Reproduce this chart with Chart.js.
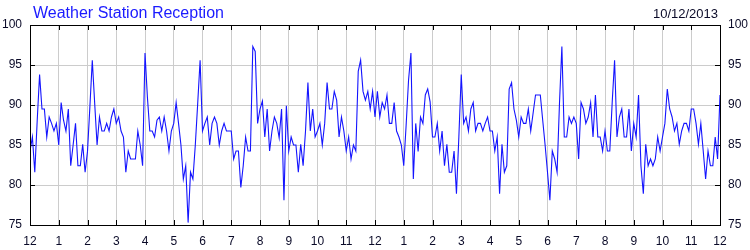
<!DOCTYPE html>
<html><head><meta charset="utf-8">
<script src="https://cdn.jsdelivr.net/npm/chart.js@4/dist/chart.umd.min.js"></script>
<style>html,body{margin:0;padding:0;background:#fff}#wrap{width:750px;height:250px}</style>
</head><body><div id="wrap"><canvas id="c" width="750" height="250"></canvas></div>
<script>
const chartTitle = 'Weather Station Reception';
const chartDate = '10/12/2013';
const hourLabels = ['12','1','2','3','4','5','6','7','8','9','10','11','12','1','2','3','4','5','6','7','8','9','10','11','12'];
const readingsPerHour = 12;
const reception = [
 84.25,86,81.6,88,93.8,89.5,89.5,86,88.5,87.7,86.75,87.7,
 85,90.3,88.1,86.75,89.5,82.4,85,87.7,82.4,82.4,85.1,81.6,
 84.2,89.8,95.6,90.2,85,88.5,86.75,86.75,87.7,86.75,88.5,89.5,
 87.7,88.5,86.75,86,81.6,84.25,83.25,83.25,83.25,86.75,85,82.4,
 96.5,91,86.75,86.75,86,88.1,88.5,86.75,88.5,86.75,84.25,86.75,
 87.7,90.3,87.7,85,80.75,82.4,75.3,81.6,80.75,85,90.2,95.6,
 86.75,87.7,88.5,85,87.7,88.5,87.7,85,86.75,87.7,86.75,86.75,
 86.75,83.25,84.25,84.25,79.7,82.4,86,84.25,84.25,97.3,96.7,87.7,
 89.5,90.5,86,89.5,84.25,86.75,88.5,87.7,85.9,89.5,78.1,89.9,
 84.25,86,85,85,81.6,85.1,82.4,86.75,92.8,86.75,89.5,86,
 86.75,87.7,85,87.7,92.8,89.5,89.5,91.7,90.6,86,88.5,86.75,
 84.25,86,83.25,85,84.25,94.2,95.6,91.7,90.6,91.7,89.5,91.7,
 88.5,91.7,88.5,90.3,89.5,91.25,87.7,87.7,90.3,86.75,86,85,
 82.4,87.5,93.1,96.5,80.75,87.7,84.2,88.5,87.7,91.25,92,90.4,
 86,86,87.7,84.25,86.75,82.4,85.1,81.6,81.6,84.25,78.9,86,
 93.8,87.7,88.5,86.75,89.5,90.3,86.75,87.7,87.7,86.75,87.7,88.5,
 86.75,86.75,84.25,86,78.9,85.1,81.6,82.4,92,92.8,89.5,88.1,
 86,88.5,87.7,87.7,89.5,86.75,89,91.25,91.25,91.25,88.1,85,
 81.6,78.1,84.25,83.25,81.6,90.2,97.3,86,86,88.5,87.7,88.5,
 87.7,83.25,90.3,89.5,87.7,88.5,90.3,86,91.25,86,86,84.25,
 86.75,84.25,84.25,90.3,95.6,86,88.5,89.5,86,86,89.5,84.25,
 87.7,86,91.25,82.4,78.9,85.1,82.4,83.25,82.4,83.25,86,84.25,
 86,87.7,92,89.5,88.5,86.75,87.7,85.1,86.75,87.7,87.7,86.75,
 89.5,89.5,87.7,85.1,87.7,84.25,80.75,84.25,82.4,82.4,86,83.25,
 91.25
];
const yMin = 75, yMax = 100, yStep = 5;

const points = reception.map((v, i) => ({x: i / readingsPerHour, y: v}));
const FONT = "'Liberation Sans', Arial, sans-serif";
const labelColor = '#0a0a28';

const frame = {
  id: 'frame',
  beforeDatasetsDraw(chart) {
    const {ctx, chartArea: a, scales: {x, y}} = chart;
    ctx.save();
    ctx.strokeStyle = '#000';
    ctx.lineWidth = 1;
    ctx.beginPath();
    const L = 5;
    x.ticks.forEach((t, i) => {
      const px = Math.round(x.getPixelForTick(i)) + 0.5;
      ctx.moveTo(px, a.top); ctx.lineTo(px, a.top + L);
      ctx.moveTo(px, a.bottom); ctx.lineTo(px, a.bottom - L);
    });
    y.ticks.forEach((t, i) => {
      const py = Math.round(y.getPixelForTick(i)) + 0.5;
      ctx.moveTo(a.left, py); ctx.lineTo(a.left + L, py);
      ctx.moveTo(a.right, py); ctx.lineTo(a.right - L, py);
    });
    ctx.stroke();
    ctx.restore();
  },
  afterDraw(chart) {
    const {ctx, chartArea: a} = chart;
    ctx.save();
    ctx.strokeStyle = '#000';
    ctx.lineWidth = 1;
    ctx.strokeRect(Math.round(a.left) + 0.5, Math.round(a.top) + 0.5, Math.round(a.right - a.left), Math.round(a.bottom - a.top));
    ctx.textBaseline = 'alphabetic';
    ctx.font = '16px ' + FONT;
    ctx.fillStyle = '#1a1aff';
    ctx.textAlign = 'left';
    ctx.fillText(chartTitle, a.left + 3, 18);
    ctx.font = '13px ' + FONT;
    ctx.fillStyle = labelColor;
    ctx.textAlign = 'right';
    ctx.fillText(chartDate, a.right - 2, 18);
    ctx.restore();
  }
};

new Chart(document.getElementById('c'), {
  type: 'line',
  data: {
    datasets: [{
      data: points,
      borderColor: '#1414ff',
      borderWidth: 1.1,
      pointRadius: 0,
      tension: 0,
      fill: false
    }]
  },
  options: {
    responsive: false,
    animation: false,
    parsing: false,
    layout: {padding: {top: 25, bottom: 0, left: 0, right: 0}},
    plugins: {legend: {display: false}, tooltip: {enabled: false}, title: {display: false}},
    scales: {
      x: {
        type: 'linear', min: 0, max: hourLabels.length - 1,
        afterFit(s) { s.height = 25; },
        grid: {color: '#cccccc', lineWidth: 1, drawTicks: false},
        border: {display: true, color: '#000'},
        ticks: {
          stepSize: 1, autoSkip: false, maxRotation: 0, padding: 9,
          color: labelColor, font: {family: FONT, size: 12},
          callback: (v) => hourLabels[v]
        }
      },
      y: {
        position: 'left', min: yMin, max: yMax,
        afterFit(s) { s.width = 30; },
        grid: {color: '#cccccc', lineWidth: 1, drawTicks: false},
        border: {display: true, color: '#000'},
        ticks: {stepSize: yStep, padding: 8, color: labelColor, font: {family: FONT, size: 12}}
      },
      y2: {
        position: 'right', min: yMin, max: yMax,
        afterFit(s) { s.width = 30; },
        grid: {display: false, drawTicks: false},
        border: {display: true, color: '#000'},
        ticks: {stepSize: yStep, padding: 8, color: labelColor, font: {family: FONT, size: 12}}
      }
    }
  },
  plugins: [frame]
});
</script>
</body></html>
